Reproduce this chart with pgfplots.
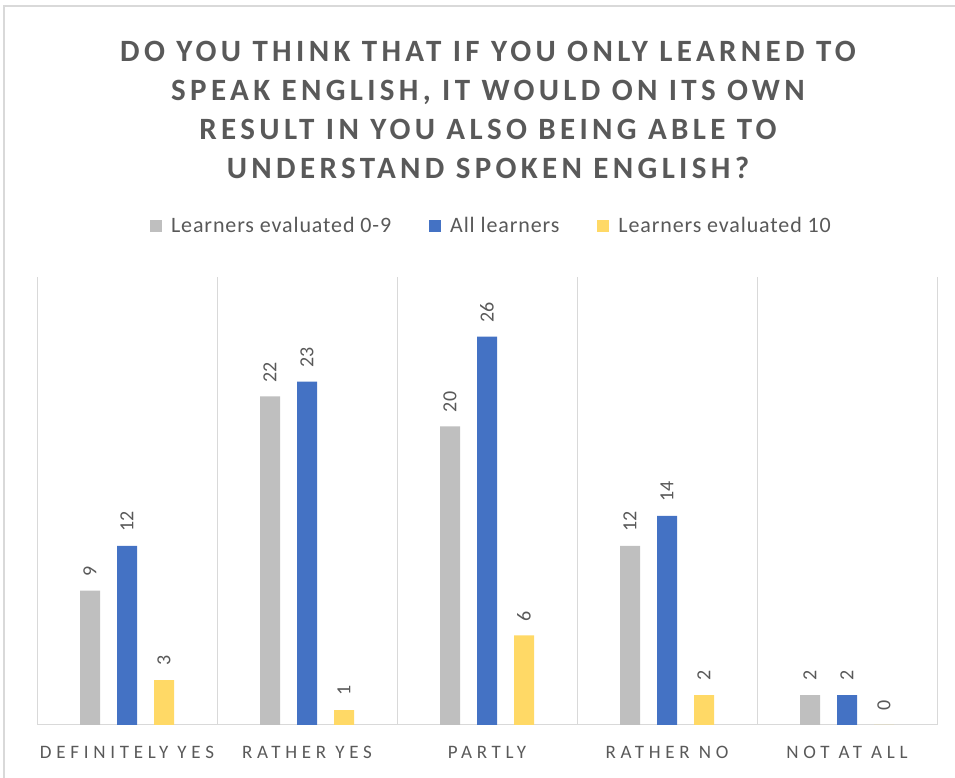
\documentclass[border=0pt]{standalone}
\usepackage{pgfplots}
\pgfplotsset{compat=1.18}
\usepackage{fontspec}
\setmainfont{Carlito}
\newfontfamily\titlefont[LetterSpace=14]{Carlito}
\newfontfamily\catfont[LetterSpace=25]{Carlito}
\newfontfamily\legfont[LetterSpace=4]{Carlito}
\definecolor{txt}{HTML}{595959}
\definecolor{gridc}{HTML}{D9D9D9}
\definecolor{sgray}{HTML}{BFBFBF}
\definecolor{sblue}{HTML}{4472C4}
\definecolor{syellow}{HTML}{FFD966}

\begin{document}
\begin{tikzpicture}[x=1pt,y=1pt]
\useasboundingbox (0,0) rectangle (955,778);
% chart frame (cropped at right and bottom)
\draw[gridc, line width=1.5pt] (4,-20) -- (4,772) -- (1000,772);
\node[align=center, text=txt, font=\titlefont\bfseries\fontsize{31}{39}\selectfont] at (488,668)
  {DO YOU THINK THAT IF YOU ONLY LEARNED TO\\SPEAK ENGLISH, IT WOULD ON ITS OWN\\RESULT IN YOU ALSO BEING ABLE TO\\UNDERSTAND SPOKEN ENGLISH?};
\begin{axis}[
  at={(37pt,53pt)}, anchor=south west,
  scale only axis, width=900pt, height=448pt,
  xmin=-0.5, xmax=4.5, ymin=0, ymax=30,
  ybar=17pt, bar width=20pt,
  axis y line=none, axis x line*=bottom,
  x axis line style={draw=gridc, line width=1pt, -},
  xtick={0,...,4},
  xticklabels={DEFINITELY YES, RATHER YES, PARTLY, RATHER NO, NOT AT ALL},
  major tick length=0pt, minor tick length=0pt,
  minor xtick={-0.5,0.5,...,4.5},
  xminorgrids, minor grid style={draw=gridc, line width=1pt},
  xticklabel style={font=\catfont\fontsize{19}{21}\selectfont, text=txt, yshift=-18pt},
  /pgf/number format/assume math mode=true,
  nodes near coords,
  nodes near coords style={rotate=90, anchor=west, inner xsep=14pt, inner ysep=0pt,
    font=\fontsize{20}{22}\selectfont, text=txt},
  legend columns=3,
  legend style={at={(0.505,1.114)}, anchor=center, draw=none,
    font=\legfont\fontsize{22}{26}\selectfont, text=txt,
    /tikz/every odd column/.append style={column sep=7pt},
    /tikz/every even column/.append style={column sep=36pt}},
  legend image code/.code={\fill[#1] (0pt,-6pt) rectangle (12pt,6pt);},
]
\addplot[fill=sgray, draw=none] coordinates {(0,9) (1,22) (2,20) (3,12) (4,2)};
\addplot[fill=sblue, draw=none] coordinates {(0,12) (1,23) (2,26) (3,14) (4,2)};
\addplot[fill=syellow, draw=none] coordinates {(0,3) (1,1) (2,6) (3,2) (4,0)};
\legend{Learners evaluated 0-9, All learners, Learners evaluated 10}
\end{axis}
\end{tikzpicture}
\end{document}
